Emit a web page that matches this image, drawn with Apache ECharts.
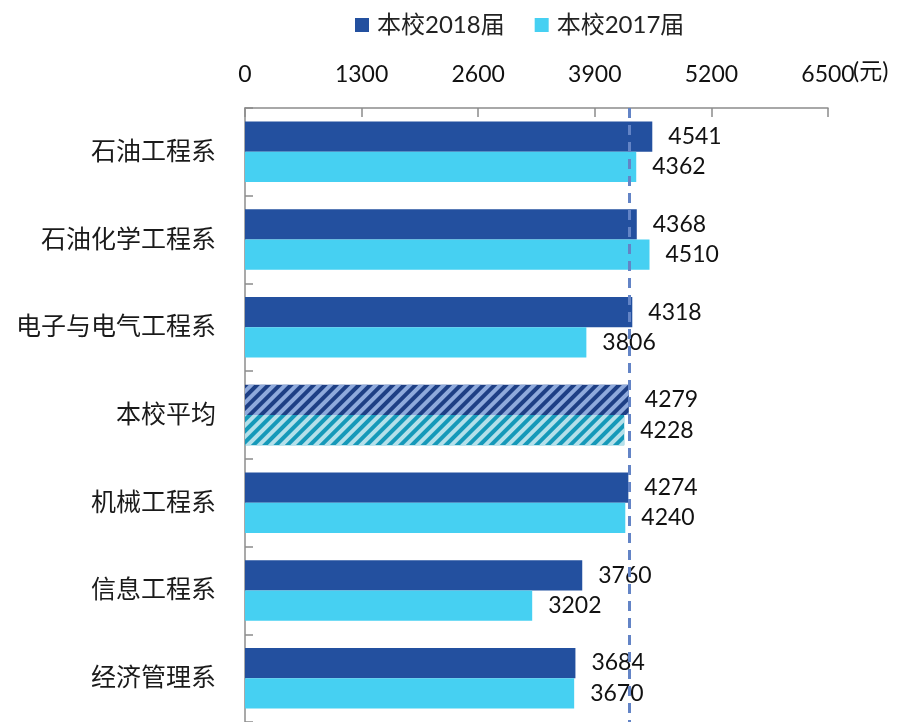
<!DOCTYPE html>
<html>
<head>
<meta charset="utf-8">
<script src="https://cdn.jsdelivr.net/npm/echarts@6/dist/echarts.min.js"></script>
<style>
  html, body { margin: 0; padding: 0; background: #fff; }
  #main { width: 901px; height: 722px; }
</style>
</head>
<body>
<div id="main"></div>
<script>
var categories = ['石油工程系', '石油化学工程系', '电子与电气工程系', '本校平均', '机械工程系', '信息工程系', '经济管理系'];
var seriesNames = ['本校2018届', '本校2017届'];
var values2018 = [4541, 4368, 4318, 4279, 4274, 3760, 3684];
var values2017 = [4362, 4510, 3806, 4228, 4240, 3202, 3670];
var xTicks = [0, 1300, 2600, 3900, 5200, 6500];
var avgName = '本校平均';
var avgLine = 4279;

var font = 'Lato, "Noto Sans CJK SC", sans-serif';

// 平均行用斜线填充
function stripe(base, line) {
    return {
        color: base,
        decal: {
            symbol: 'rect',
            color: line,
            dashArrayX: [1, 0],
            dashArrayY: [4, 4],
            rotation: -Math.PI / 4
        }
    };
}

function buildData(vals, base, line) {
    return vals.map(function (v, i) {
        if (categories[i] === avgName) {
            return { value: v, itemStyle: stripe(base, line) };
        }
        return v;
    });
}

var labelStyle = { show: true, position: 'right', distance: 16, fontSize: 23, color: '#111', fontFamily: font };

var chart = echarts.init(document.getElementById('main'));
var option = {
    animation: false,
    textStyle: { fontFamily: font },
    legend: {
        top: 8,
        left: 350,
        itemWidth: 14,
        itemHeight: 14,
        itemGap: 30,
        icon: 'rect',
        textStyle: { fontSize: 24, color: '#222', fontFamily: font, padding: [0, 0, 0, 3] },
        data: seriesNames
    },
    grid: { left: 245, right: 73, top: 108, bottom: -5 },
    xAxis: {
        type: 'value',
        position: 'top',
        min: xTicks[0],
        max: xTicks[xTicks.length - 1],
        interval: xTicks[1] - xTicks[0],
        axisLine: { show: true, lineStyle: { color: '#8c8c8c', width: 1.5 } },
        axisTick: { show: true, inside: true, length: 9, lineStyle: { color: '#8c8c8c', width: 1.5 } },
        axisLabel: {
            fontSize: 23, color: '#111', margin: 22, fontFamily: font,
            formatter: function (v) { return String(v); }
        },
        splitLine: { show: false }
    },
    yAxis: {
        type: 'category',
        inverse: true,
        data: categories,
        axisLine: { show: true, lineStyle: { color: '#8c8c8c', width: 1.5 } },
        axisTick: { show: true, inside: true, length: 8, lineStyle: { color: '#8c8c8c', width: 1.5 } },
        axisLabel: { fontSize: 25, color: '#1a1a1a', margin: 29, fontFamily: font }
    },
    graphic: [{
        type: 'text',
        left: 853,
        top: 60,
        style: { text: '(元)', fontSize: 23, fill: '#111', fontFamily: font }
    }],
    series: [{
        name: seriesNames[0],
        type: 'bar',
        data: buildData(values2018, '#1E3F85', '#8FAADC'),
        itemStyle: { color: '#23509F' },
        barGap: '0%',
        barCategoryGap: '31%',
        label: labelStyle,
        markLine: {
            silent: true,
            symbol: 'none',
            label: { show: false },
            lineStyle: { color: '#6384C6', width: 3, type: [10, 7] },
            data: [{ xAxis: avgLine }]
        },
        z: 2
    }, {
        name: seriesNames[1],
        type: 'bar',
        data: buildData(values2017, '#1599B9', '#B4E0EA'),
        itemStyle: { color: '#46D0F2' },
        barGap: '0%',
        barCategoryGap: '31%',
        label: labelStyle,
        z: 2
    }]
};
chart.setOption(option);
</script>
</body>
</html>
